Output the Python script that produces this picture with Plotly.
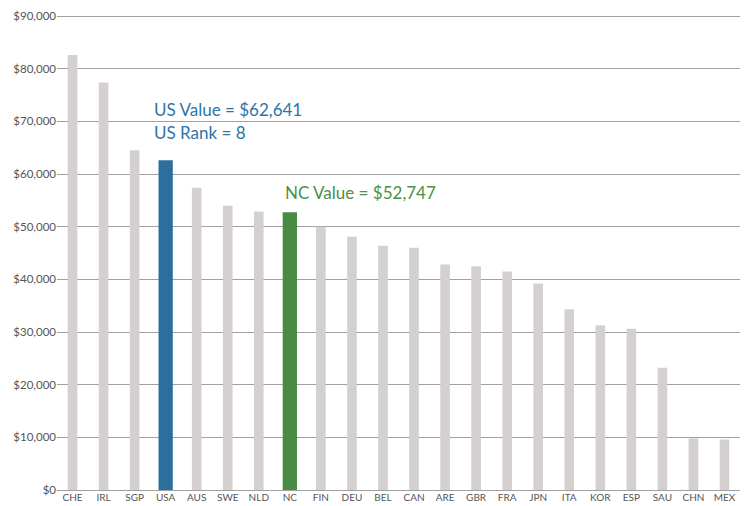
import plotly.graph_objects as go

countries = ["CHE", "IRL", "SGP", "USA", "AUS", "SWE", "NLD", "NC", "FIN", "DEU", "BEL",
             "CAN", "ARE", "GBR", "FRA", "JPN", "ITA", "KOR", "ESP", "SAU", "CHN", "MEX"]
values = [82600, 77400, 64500, 62641, 57400, 54000, 52900, 52747, 50000, 48100, 46400,
          46000, 42800, 42500, 41500, 39200, 34300, 31300, 30600, 23200, 9800, 9600]
y_ticks = [0, 10000, 20000, 30000, 40000, 50000, 60000, 70000, 80000, 90000]
y_tick_labels = ["$0", "$10,000", "$20,000", "$30,000", "$40,000", "$50,000",
                 "$60,000", "$70,000", "$80,000", "$90,000"]

GRAY = "#d4d0cf"
BLUE = "#2c6f9e"
GREEN = "#478c42"

colors = [BLUE if c == "USA" else GREEN if c == "NC" else GRAY for c in countries]
widths = [0.46 if c in ("USA", "NC") else 0.31 for c in countries]

fig = go.Figure(go.Bar(x=countries, y=values, marker=dict(color=colors, line=dict(width=0)),
                       width=widths, hoverinfo="x+y"))

fig.update_layout(
    width=740, height=498,
    margin=dict(l=49, r=8, t=7, b=16, autoexpand=False),
    plot_bgcolor="white", paper_bgcolor="white",
    showlegend=False,
    font=dict(family="Lato, 'Source Sans Pro', sans-serif", color="#555555"),
    xaxis=dict(type="category", tickfont=dict(size=10, color="#555555"), showgrid=False,
               showline=False, ticks="", range=[-0.5, len(countries) - 0.5]),
    yaxis=dict(range=[0, 90200], tickvals=y_ticks, ticktext=y_tick_labels,
               tickfont=dict(size=11.5, color="#555555"), showgrid=True,
               gridcolor="#a0a0a0", gridwidth=1.3, zeroline=True, zerolinecolor="#a0a0a0",
               zerolinewidth=1.3, ticks="", ticklen=0, ticklabeloverflow="allow"),
    bargap=0.5,
)

fig.add_annotation(x=2.55, y=72300, xref="x", yref="y", text="US Value = $62,641",
                   showarrow=False, xanchor="left", yanchor="middle",
                   font=dict(size=17, color="#2e75a8"))
fig.add_annotation(x=2.55, y=67900, xref="x", yref="y", text="US Rank = 8",
                   showarrow=False, xanchor="left", yanchor="middle",
                   font=dict(size=17, color="#2e75a8"))
fig.add_annotation(x=6.79, y=56400, xref="x", yref="y", text="NC Value = $52,747",
                   showarrow=False, xanchor="left", yanchor="middle",
                   font=dict(size=17, color="#4a9146"))

fig.write_html("out.html")
